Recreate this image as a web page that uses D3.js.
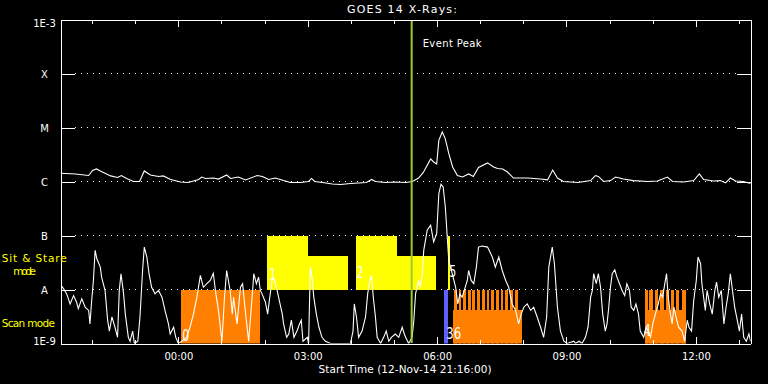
<!DOCTYPE html>
<html><head><meta charset="utf-8">
<script src="https://cdn.jsdelivr.net/npm/d3@7"></script>
<style>
html,body{margin:0;padding:0;background:#000;}
svg{display:block;}
text{font-family:"DejaVu Sans",sans-serif;}
</style></head><body>
<svg id="chart" width="768" height="384"></svg>
<script>
// ---------------- data ----------------
const chartTitle = "GOES 14 X-Rays:";
const xAxisTitle = "Start Time (12-Nov-14 21:16:00)";
// time in hours relative to 13-Nov-14 00:00
const timeDomain = [-2.733, 13.267];
const hourTicks = [-2,-1,0,1,2,3,4,5,6,7,8,9,10,11,12,13];
const majorTicks = [0,3,6,9,12];
const majorTickLabels = ["00:00","03:00","06:00","09:00","12:00"];
const fluxLevels = [1e-9,1e-8,1e-7,1e-6,1e-5,1e-4,1e-3];
const fluxLabels = ["1E-9","A","B","C","M","X","1E-3"];
const gridLevels = [1e-8,1e-7,1e-6,1e-5,1e-4];

// GOES long channel (1-8 A), W/m^2
const longTimes = [
 -2.73,-2.39,-2.08,-1.99,-1.90,-1.81,-1.57,-1.41,-1.32,-1.20,
 -1.04,-0.90,-0.79,-0.65,-0.46,-0.35,-0.18,0.05,0.23,0.47,
 0.54,0.63,0.81,0.93,1.12,1.21,1.39,1.56,1.83,1.95,
 2.09,2.25,2.44,2.60,2.83,3.02,3.09,3.16,3.34,3.57,
 3.76,3.99,4.18,4.36,4.48,4.57,4.80,5.03,5.27,5.43,
 5.57,5.68,5.85,5.92,5.99,6.04,6.12,6.19,6.27,6.36,
 6.47,6.59,6.73,6.84,6.96,7.17,7.31,7.40,7.52,7.63,
 7.77,8.10,8.40,8.56,8.68,8.79,8.93,9.26,9.56,9.67,
 9.74,9.86,10.02,10.14,10.32,10.55,10.88,11.11,11.34,11.46,
 11.71,11.95,12.08,12.18,12.41,12.57,12.69,12.80,12.92,13.10,
 13.27];
const longFlux = [
 1.42e-6,1.38e-6,1.29e-6,1.60e-6,1.71e-6,1.57e-6,1.27e-6,1.19e-6,1.29e-6,1.14e-6,
 1.00e-6,1.00e-6,1.57e-6,1.32e-6,1.24e-6,1.27e-6,1.09e-6,0.98e-6,0.96e-6,1.09e-6,
 1.21e-6,1.14e-6,1.16e-6,1.11e-6,1.32e-6,1.14e-6,1.21e-6,1.07e-6,1.29e-6,1.24e-6,
 1.09e-6,1.16e-6,1.04e-6,0.96e-6,0.96e-6,1.00e-6,1.14e-6,1.00e-6,0.96e-6,0.90e-6,
 0.88e-6,0.92e-6,0.94e-6,0.96e-6,1.09e-6,1.00e-6,0.96e-6,0.98e-6,0.96e-6,1.00e-6,
 1.16e-6,1.47e-6,2.62e-6,2.30e-6,2.11e-6,5.78e-6,8.30e-6,6.17e-6,3.31e-6,1.86e-6,
 1.29e-6,1.21e-6,1.38e-6,1.24e-6,1.82e-6,2.21e-6,1.86e-6,1.74e-6,1.71e-6,1.50e-6,
 1.16e-6,1.16e-6,1.11e-6,1.07e-6,1.63e-6,1.16e-6,1.00e-6,0.96e-6,1.04e-6,1.29e-6,
 1.24e-6,1.00e-6,1.04e-6,1.21e-6,1.11e-6,1.04e-6,1.00e-6,1.02e-6,1.21e-6,1.00e-6,
 0.98e-6,1.04e-6,1.38e-6,1.09e-6,1.02e-6,1.04e-6,0.94e-6,1.16e-6,1.02e-6,1.00e-6,
 0.92e-6];

// GOES short channel (0.5-4 A), W/m^2
const shortTimes = [
 -2.72,-2.66,-2.59,-2.51,-2.43,-2.36,-2.32,-2.24,-2.16,-2.08,
 -2.05,-2.01,-1.97,-1.93,-1.89,-1.81,-1.78,-1.70,-1.64,-1.60,
 -1.54,-1.47,-1.41,-1.37,-1.33,-1.27,-1.23,-1.16,-1.12,-1.06,
 -1.02,-0.94,-0.89,-0.83,-0.79,-0.73,-0.68,-0.62,-0.54,-0.46,
 -0.38,-0.31,-0.23,-0.19,-0.11,-0.06,0.00,0.08,0.19,0.27,
 0.35,0.43,0.51,0.58,0.66,0.74,0.81,0.87,0.93,1.01,
 1.07,1.12,1.20,1.25,1.28,1.36,1.44,1.49,1.56,1.63,
 1.71,1.75,1.81,1.86,1.90,1.94,2.02,2.07,2.12,2.18,
 2.23,2.29,2.35,2.41,2.44,2.51,2.56,2.62,2.68,2.75,
 2.81,2.85,2.89,2.99,3.02,3.06,3.10,3.14,3.20,3.26,
 3.33,3.41,3.53,3.76,3.99,4.05,4.08,4.13,4.18,4.26,
 4.34,4.39,4.44,4.48,4.52,4.57,4.61,4.69,4.76,4.82,
 4.88,4.94,5.03,5.11,5.19,5.24,5.27,5.34,5.42,5.46,
 5.50,5.57,5.61,5.65,5.69,5.77,5.85,5.92,5.99,6.04,
 6.09,6.14,6.19,6.27,6.35,6.43,6.48,6.53,6.58,6.63,
 6.70,6.73,6.79,6.85,6.91,6.96,7.04,7.17,7.28,7.35,
 7.43,7.51,7.59,7.66,7.74,7.82,7.89,7.95,8.01,8.09,
 8.17,8.24,8.32,8.40,8.47,8.54,8.59,8.67,8.72,8.79,
 8.86,8.94,9.02,9.17,9.21,9.29,9.36,9.44,9.50,9.56,
 9.60,9.63,9.69,9.74,9.79,9.84,9.90,9.94,9.98,10.02,
 10.06,10.12,10.17,10.23,10.29,10.35,10.40,10.46,10.50,10.56,
 10.61,10.67,10.71,10.79,10.85,10.89,10.95,11.00,11.06,11.13,
 11.18,11.23,11.28,11.32,11.36,11.41,11.45,11.49,11.54,11.60,
 11.68,11.74,11.80,11.84,11.90,11.95,12.01,12.05,12.11,12.14,
 12.18,12.22,12.26,12.32,12.38,12.44,12.48,12.53,12.59,12.65,
 12.70,12.75,12.80,12.84,12.90,12.96,13.01,13.06,13.11,13.17,
 13.23,13.27];
const shortFlux = [
 1.19e-8,1.03e-8,0.83e-8,0.54e-8,0.77e-8,0.58e-8,0.44e-8,0.67e-8,0.47e-8,0.41e-8,
 0.23e-8,0.625e-8,1.47e-8,5.3e-8,3.7e-8,2.6e-8,1.69e-8,0.96e-8,0.27e-8,0.17e-8,
 0.31e-8,0.20e-8,0.13e-8,0.96e-8,1.96e-8,0.83e-8,0.35e-8,0.13e-8,0.11e-8,0.17e-8,
 0.10e-8,0.11e-8,0.31e-8,2.25e-8,6.1e-8,3.97e-8,1.96e-8,1.10e-8,0.83e-8,0.96e-8,
 0.72e-8,0.41e-8,0.23e-8,0.15e-8,0.20e-8,0.13e-8,0.10e-8,0.11e-8,0.13e-8,0.20e-8,
 0.35e-8,0.72e-8,1.82e-8,1.10e-8,1.28e-8,1.47e-8,2.0e-8,0.83e-8,0.41e-8,0.11e-8,
 0.72e-8,2.25e-8,0.96e-8,0.35e-8,0.72e-8,0.23e-8,1.10e-8,1.28e-8,0.35e-8,0.11e-8,
 0.72e-8,1.96e-8,1.28e-8,1.69e-8,0.96e-8,0.83e-8,0.58e-8,0.35e-8,0.72e-8,1.69e-8,
 1.47e-8,0.96e-8,0.58e-8,0.35e-8,0.23e-8,0.13e-8,0.15e-8,0.27e-8,0.13e-8,0.17e-8,
 0.23e-8,0.27e-8,0.11e-8,0.13e-8,0.10e-8,2.6e-8,1.69e-8,0.72e-8,0.35e-8,0.20e-8,
 0.13e-8,0.11e-8,0.10e-8,0.10e-8,0.10e-8,0.17e-8,0.54e-8,0.31e-8,0.13e-8,0.17e-8,
 0.31e-8,0.83e-8,1.47e-8,1.82e-8,0.72e-8,0.31e-8,0.13e-8,0.10e-8,0.13e-8,0.17e-8,
 0.11e-8,0.13e-8,0.15e-8,0.13e-8,0.20e-8,0.15e-8,0.13e-8,0.10e-8,0.13e-8,0.27e-8,
 0.83e-8,1.47e-8,1.10e-8,1.69e-8,5.3e-8,12.5e-8,15.5e-8,7.6e-8,10.8e-8,60e-8,
 89e-8,79e-8,34e-8,3.46e-8,1.96e-8,1.10e-8,0.54e-8,0.83e-8,0.72e-8,0.96e-8,
 1.47e-8,2.25e-8,1.47e-8,1.28e-8,2.6e-8,6.1e-8,6.4e-8,6.1e-8,4.0e-8,2.6e-8,
 4.0e-8,2.25e-8,1.47e-8,1.10e-8,0.54e-8,0.41e-8,0.23e-8,0.35e-8,0.47e-8,0.54e-8,
 0.41e-8,0.47e-8,0.31e-8,0.20e-8,0.13e-8,0.31e-8,2.6e-8,6.1e-8,3.0e-8,0.47e-8,
 0.17e-8,0.11e-8,0.10e-8,0.11e-8,0.10e-8,0.11e-8,0.10e-8,0.13e-8,0.20e-8,0.72e-8,
 0.96e-8,1.96e-8,1.28e-8,1.96e-8,1.10e-8,0.35e-8,0.17e-8,0.23e-8,0.47e-8,1.10e-8,
 1.96e-8,2.32e-8,1.69e-8,1.28e-8,0.96e-8,0.77e-8,1.28e-8,0.96e-8,0.47e-8,0.41e-8,
 0.54e-8,0.35e-8,0.17e-8,0.13e-8,0.20e-8,0.17e-8,0.13e-8,0.23e-8,0.35e-8,0.54e-8,
 0.83e-8,0.72e-8,1.28e-8,1.96e-8,0.72e-8,0.35e-8,0.23e-8,0.47e-8,0.31e-8,0.20e-8,
 0.17e-8,0.11e-8,0.27e-8,0.20e-8,0.17e-8,0.625e-8,1.47e-8,4.0e-8,3.0e-8,1.28e-8,
 0.72e-8,0.41e-8,0.96e-8,0.54e-8,0.35e-8,0.96e-8,1.37e-8,0.72e-8,0.96e-8,0.23e-8,
 0.47e-8,0.83e-8,1.96e-8,1.10e-8,0.47e-8,0.27e-8,0.17e-8,0.35e-8,0.13e-8,0.11e-8,
 0.15e-8,0.11e-8];

// Observing modes (times in hours, levels in flux units used as bar extents)
const sitStart = [2.06, 3.01, 4.11, 5.06, 6.26];
const sitEnd   = [3.01, 3.94, 5.06, 5.98, 6.31];
const sitTop   = [1e-7, 4.2e-8, 1e-7, 4.2e-8, 1e-7];
const sitBase  = 1e-8;
const scanStart = [0.07, 6.36, 10.81];
const scanEnd   = [1.89, 7.98, 11.78];
const scanTop   = [1e-8, 4.1e-9, 4.1e-9];
const scanBase  = 1e-9;
const burstStart = [6.39,6.50,6.61,6.72,6.82,6.93,7.04,7.15,7.26,7.37,7.47,7.58,7.69,7.80,
                    10.81,10.92,11.05,11.17,11.30,11.42,11.54,11.67];
const burstEnd   = [6.45,6.56,6.67,6.78,6.88,6.99,7.10,7.21,7.32,7.43,7.53,7.64,7.75,7.88,
                    10.89,11.00,11.13,11.25,11.38,11.50,11.62,11.78];
const burstTop = 1e-8;
const calStart = [6.17], calEnd = [6.26], calTop = [1e-8];
const obsLabels = ["0","1","2","5","36","4"];
const obsLabelTime = [0.09, 2.11, 4.13, 6.28, 6.21, 10.79];
const obsLabelFlux = [1.13e-9, 1.47e-8, 1.6e-8, 1.67e-8, 1.23e-9, 1.4e-9];
const eventPeakTime = 5.41;
const eventLabel = "Event Peak";
const modeLabels = ["Sit & Stare", "mode", "Scan mode"];

// ---------------- drawing ----------------
const svg = d3.select("#chart");
svg.append("rect").attr("width",768).attr("height",384).attr("fill","#000");

const x = d3.scaleLinear().domain(timeDomain).range([60.5, 750.5]);
const y = d3.scaleLog().domain([1e-9,1e-3]).range([343.5, 19.5]);

svg.append("defs").append("clipPath").attr("id","plotclip")
  .append("rect").attr("x",60.5).attr("y",19.5).attr("width",690).attr("height",324);

// dotted grid
svg.append("g").selectAll("line").data(gridLevels).join("line")
  .attr("x1",75).attr("x2",736).attr("y1",d=>y(d)).attr("y2",d=>y(d))
  .attr("stroke","#fff").attr("stroke-width",1).attr("stroke-dasharray","1,5");

const plot = svg.append("g").attr("clip-path","url(#plotclip)");
const ce = "crispEdges";
// scan mode blocks
plot.append("g").selectAll("rect").data(scanStart).join("rect")
  .attr("x",(d,i)=>x(d)).attr("width",(d,i)=>x(scanEnd[i])-x(d))
  .attr("y",(d,i)=>y(scanTop[i])).attr("height",(d,i)=>y(scanBase)-y(scanTop[i]))
  .attr("fill","#ff8000").attr("shape-rendering",ce);
plot.append("g").selectAll("rect").data(burstStart).join("rect")
  .attr("x",(d,i)=>x(d)).attr("width",(d,i)=>x(burstEnd[i])-x(d))
  .attr("y",y(burstTop)).attr("height",y(scanBase)-y(burstTop))
  .attr("fill","#ff8000").attr("shape-rendering",ce);
plot.append("g").selectAll("rect").data(calStart).join("rect")
  .attr("x",(d,i)=>x(d)).attr("width",(d,i)=>x(calEnd[i])-x(d))
  .attr("y",(d,i)=>y(calTop[i])).attr("height",(d,i)=>y(scanBase)-y(calTop[i]))
  .attr("fill","#6060ff").attr("shape-rendering",ce);
// sit & stare blocks
plot.append("g").selectAll("rect").data(sitStart).join("rect")
  .attr("x",(d,i)=>x(d)).attr("width",(d,i)=>x(sitEnd[i])-x(d))
  .attr("y",(d,i)=>y(sitTop[i])).attr("height",(d,i)=>y(sitBase)-y(sitTop[i]))
  .attr("fill","#ffff00").attr("shape-rendering",ce);
// observation labels
plot.append("g").selectAll("text").data(obsLabels).join("text")
  .attr("x",(d,i)=>x(obsLabelTime[i])).attr("y",(d,i)=>y(obsLabelFlux[i]))
  .attr("fill","#fff").attr("font-size",15)
  .attr("textLength",d=>d.length>1?15:7).attr("lengthAdjust","spacingAndGlyphs")
  .text(d=>d);

// event peak line
svg.append("line").attr("x1",x(eventPeakTime)).attr("x2",x(eventPeakTime))
  .attr("y1",20).attr("y2",343).attr("stroke","#9acd32").attr("stroke-width",2);
svg.append("text").attr("x",x(eventPeakTime)+11).attr("y",46.7)
  .attr("fill","#fff").attr("font-size",10).attr("textLength",59).text(eventLabel);

// data lines
const lineGen = d3.line().x(d=>x(d[0])).y(d=>y(Math.max(d[1],1e-9)));
plot.append("path").datum(longTimes.map((t,i)=>[t,longFlux[i]]))
  .attr("d",lineGen).attr("fill","none").attr("stroke","#fff").attr("stroke-width",1.1);
plot.append("path").datum(shortTimes.map((t,i)=>[t,shortFlux[i]]))
  .attr("d",lineGen).attr("fill","none").attr("stroke","#fff").attr("stroke-width",1.1);

// axes
const axG = svg.append("g").attr("color","#fff").attr("shape-rendering",ce);
axG.append("g").attr("transform","translate(0,343.5)")
  .call(d3.axisBottom(x).tickValues(hourTicks).tickSize(-4).tickSizeOuter(0).tickFormat(""));
axG.append("g").attr("transform","translate(0,343.5)")
  .call(d3.axisBottom(x).tickValues(majorTicks).tickSize(-7).tickSizeOuter(0)
    .tickPadding(9).tickFormat((d,i)=>majorTickLabels[i]))
  .call(g=>g.selectAll("text").attr("font-size",10).attr("font-family","DejaVu Sans").attr("fill","#fff"));
axG.append("g").attr("transform","translate(0,19.5)")
  .call(d3.axisTop(x).tickValues(hourTicks).tickSize(-4).tickSizeOuter(0).tickFormat(""));
axG.append("g").attr("transform","translate(0,19.5)")
  .call(d3.axisTop(x).tickValues(majorTicks).tickSize(-7).tickSizeOuter(0).tickFormat(""));
axG.append("g").attr("transform","translate(60.5,0)")
  .call(d3.axisLeft(y).tickValues(fluxLevels).tickSize(-14).tickSizeOuter(0)
    .tickFormat((d,i)=>fluxLabels[i]))
  .call(g=>g.selectAll("text").attr("font-size",10).attr("font-family","DejaVu Sans")
    .attr("fill","#fff").attr("text-anchor","middle").attr("x",-16)
    .attr("dy",(d,i)=> i===fluxLevels.length-1 ? "0.72em" : (i===0 ? "0.1em" : "0.35em")));
axG.append("g").attr("transform","translate(750.5,0)")
  .call(d3.axisRight(y).tickValues(fluxLevels).tickSize(-14).tickSizeOuter(0).tickFormat(""));

// titles
svg.append("text").attr("x",402).attr("y",13.3).attr("text-anchor","middle")
  .attr("fill","#fff").attr("font-size",11).attr("textLength",110).text(chartTitle);
svg.append("text").attr("x",405).attr("y",373).attr("text-anchor","middle")
  .attr("fill","#fff").attr("font-size",10.5).attr("textLength",173).text(xAxisTitle);
// mode labels
const modeX = [1.7, 13.3, 1.7], modeY = [261.6, 274.8, 327.4], modeW = [65, 22.7, 53.3];
svg.append("g").selectAll("text").data(modeLabels).join("text")
  .attr("x",(d,i)=>modeX[i]).attr("y",(d,i)=>modeY[i]).attr("fill","#ffff00")
  .attr("font-size",10.5).attr("textLength",(d,i)=>modeW[i]).text(d=>d);
</script>
</body></html>
